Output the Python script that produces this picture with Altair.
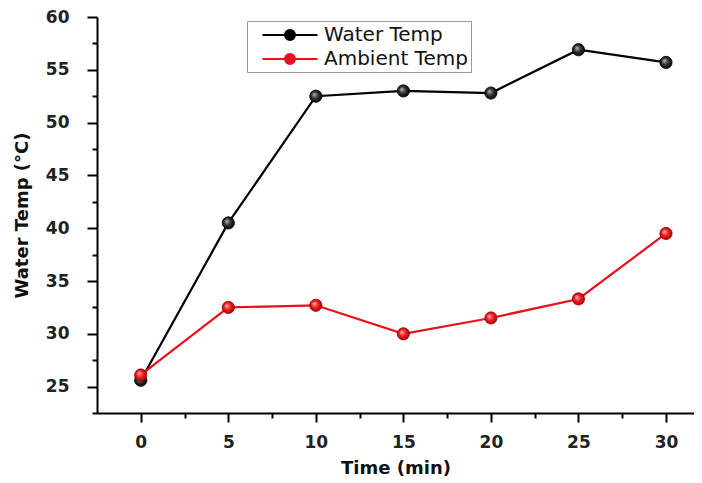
import altair as alt
import pandas as pd

time_min = [0, 5, 10, 15, 20, 25, 30]
water_temp = [25.6, 40.5, 52.5, 53.0, 52.8, 56.9, 55.7]
ambient_temp = [26.1, 32.5, 32.7, 30.0, 31.5, 33.3, 39.5]
series_names = ["Water Temp", "Ambient Temp"]
series_colors = ["#000000", "#e8101c"]
x_ticks = [0, 5, 10, 15, 20, 25, 30]
y_ticks = [25, 30, 35, 40, 45, 50, 55, 60]
x_minor = [2.5, 7.5, 12.5, 17.5, 22.5, 27.5]
y_minor = [22.5, 27.5, 32.5, 37.5, 42.5, 47.5, 52.5, 57.5]

rows = []
for t, w in zip(time_min, water_temp):
    rows.append({"t": t, "v": w, "s": series_names[0]})
for t, a in zip(time_min, ambient_temp):
    rows.append({"t": t, "v": a, "s": series_names[1]})
df = pd.DataFrame(rows)

FONT = "DejaVu Sans"
xscale = alt.Scale(domain=[-2.5, 31.6], nice=False, zero=False)
yscale = alt.Scale(domain=[22.5, 60], nice=False, zero=False)

xenc = alt.X("t:Q", scale=xscale,
             axis=alt.Axis(values=x_ticks, title="Time (min)", grid=False,
                           tickSize=9, labelPadding=12, titlePadding=9,
                           format="d"))
yenc = alt.Y("v:Q", scale=yscale,
             axis=alt.Axis(values=y_ticks, title="Water Temp (°C)", grid=False,
                           tickSize=10, labelPadding=18, titlePadding=14,
                           format="d"))
xnone = alt.X("t:Q", scale=xscale, axis=None)
ynone = alt.Y("v:Q", scale=yscale, axis=None)

sym_path = ("M-2.75,0L2.75,0"
            "M-0.5,0A0.5,0.5,0,1,1,0.5,0A0.5,0.5,0,1,1,-0.5,0"
            "M-0.3,0A0.3,0.3,0,1,1,0.3,0A0.3,0.3,0,1,1,-0.3,0"
            "M-0.1,0A0.1,0.1,0,1,1,0.1,0A0.1,0.1,0,1,1,-0.1,0")

color = alt.Color("s:N", scale=alt.Scale(domain=series_names, range=series_colors),
                  sort=series_names,
                  legend=alt.Legend(title=None, orient="none", legendX=150, legendY=4,
                                    symbolType=sym_path, symbolSize=400,
                                    symbolStrokeWidth=2, symbolOffset=29,
                                    symbolFillColor="transparent", symbolOpacity=1,
                                    labelOffset=23, labelFont=FONT, labelFontSize=20,
                                    labelFontWeight="normal", labelColor="#111",
                                    strokeColor="#999", padding=3, rowPadding=3))

lines = alt.Chart(df).mark_line(strokeWidth=2.2).encode(
    x=xenc, y=yenc, color=color, order="t:Q")

grad_black = alt.RadialGradient(
    gradient="radial",
    stops=[alt.GradientStop(color="#bbbbbb", offset=0),
           alt.GradientStop(color="#333333", offset=0.5),
           alt.GradientStop(color="#000000", offset=1)],
    x1=0.35, y1=0.35, r1=0, x2=0.5, y2=0.5, r2=0.55)
grad_red = alt.RadialGradient(
    gradient="radial",
    stops=[alt.GradientStop(color="#ffb0b0", offset=0),
           alt.GradientStop(color="#ee2020", offset=0.5),
           alt.GradientStop(color="#a00000", offset=1)],
    x1=0.35, y1=0.35, r1=0, x2=0.5, y2=0.5, r2=0.55)

pts_w = alt.Chart(df).transform_filter(alt.datum.s == series_names[0]).mark_circle(
    size=150, opacity=1, fill=grad_black, stroke="#000", strokeWidth=0.8).encode(x=xnone, y=ynone)
pts_a = alt.Chart(df).transform_filter(alt.datum.s == series_names[1]).mark_circle(
    size=150, opacity=1, fill=grad_red, stroke="#900", strokeWidth=0.8).encode(x=xnone, y=ynone)

minor = alt.Chart(df).mark_circle(opacity=0).encode(
    x=alt.X("t:Q", scale=xscale,
            axis=alt.Axis(orient="bottom", values=x_minor, labels=False, domain=False,
                          grid=False, tickSize=5, title=None)),
    y=alt.Y("v:Q", scale=yscale,
            axis=alt.Axis(orient="left", values=y_minor, labels=False, domain=False,
                          grid=False, tickSize=5, title=None)))

chart = alt.layer(lines, pts_w, pts_a, minor).resolve_axis(
    x="independent", y="independent"
).properties(
    width=597, height=396,
    autosize=alt.AutoSizeParams(type="none"),
    padding={"left": 89, "top": 9, "right": 0, "bottom": 66},
).configure_view(stroke=None).configure_axis(
    domainColor="#000", domainWidth=2, tickColor="#000", tickWidth=2,
    labelFont=FONT, labelFontSize=17, labelFontWeight="bold", labelColor="#222",
    titleFont=FONT, titleFontSize=18, titleFontWeight="bold", titleColor="#111",
)

chart.save("out.html", embed_options={"renderer": "svg", "actions": False})
